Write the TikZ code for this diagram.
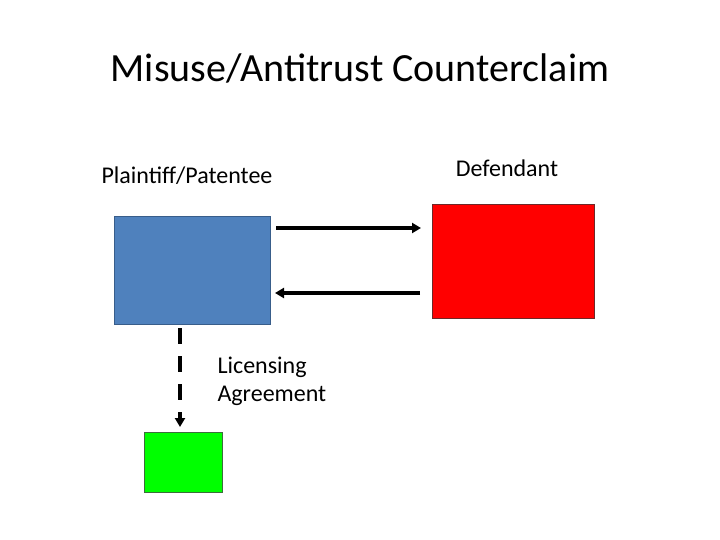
\documentclass[tikz,border=0pt]{standalone}
\usepackage{fontspec}
\setmainfont{Carlito}
\usetikzlibrary{arrows.meta}
\definecolor{bluefill}{RGB}{79,129,189}
\definecolor{blueline}{RGB}{56,93,138}
\definecolor{redline}{RGB}{110,40,40}
\definecolor{greenfill}{RGB}{0,255,0}
\definecolor{greenline}{RGB}{60,110,60}
\begin{document}
\begin{tikzpicture}[x=1pt,y=-1pt,
  box/.style={draw=#1,line width=0.8pt,inner sep=0pt,anchor=north west},
  arr/.style={line width=3.5pt,-{Triangle[length=9pt,width=10pt]}},
  lbl/.style={font=\fontsize{24}{28}\selectfont}]
\useasboundingbox (0,0) rectangle (720,540);
\node[font=\fontsize{40}{46}\selectfont] (title) at (360,68) {Misuse/Antitrust Counterclaim};
\node[lbl] (pl) at (187,176) {Plaintiff/Patentee};
\node[lbl] (df) at (507,168) {Defendant};
\node[box=blueline,fill=bluefill,minimum width=156pt,minimum height=108pt] (blue) at (114,216) {};
\node[box=redline,fill=red,minimum width=162pt,minimum height=114pt] (red) at (432,204) {};
\node[box=greenline,fill=greenfill,minimum width=78pt,minimum height=60pt] (green) at (144,432) {};
\coordinate (a1) at (276,228); \coordinate (a2) at (421,228);
\coordinate (b1) at (420,293); \coordinate (b2) at (275,293);
\draw[arr] (a1) -- (a2);
\draw[arr] (b1) -- (b2);
\coordinate (d1) at (180,328); \coordinate (d2) at (180,427);
\draw[arr,dash pattern=on 16pt off 12pt] (d1) -- (d2);
\node[lbl,align=left,anchor=west] (lic) at (214,381) {Licensing\\Agreement};
\end{tikzpicture}
\end{document}
